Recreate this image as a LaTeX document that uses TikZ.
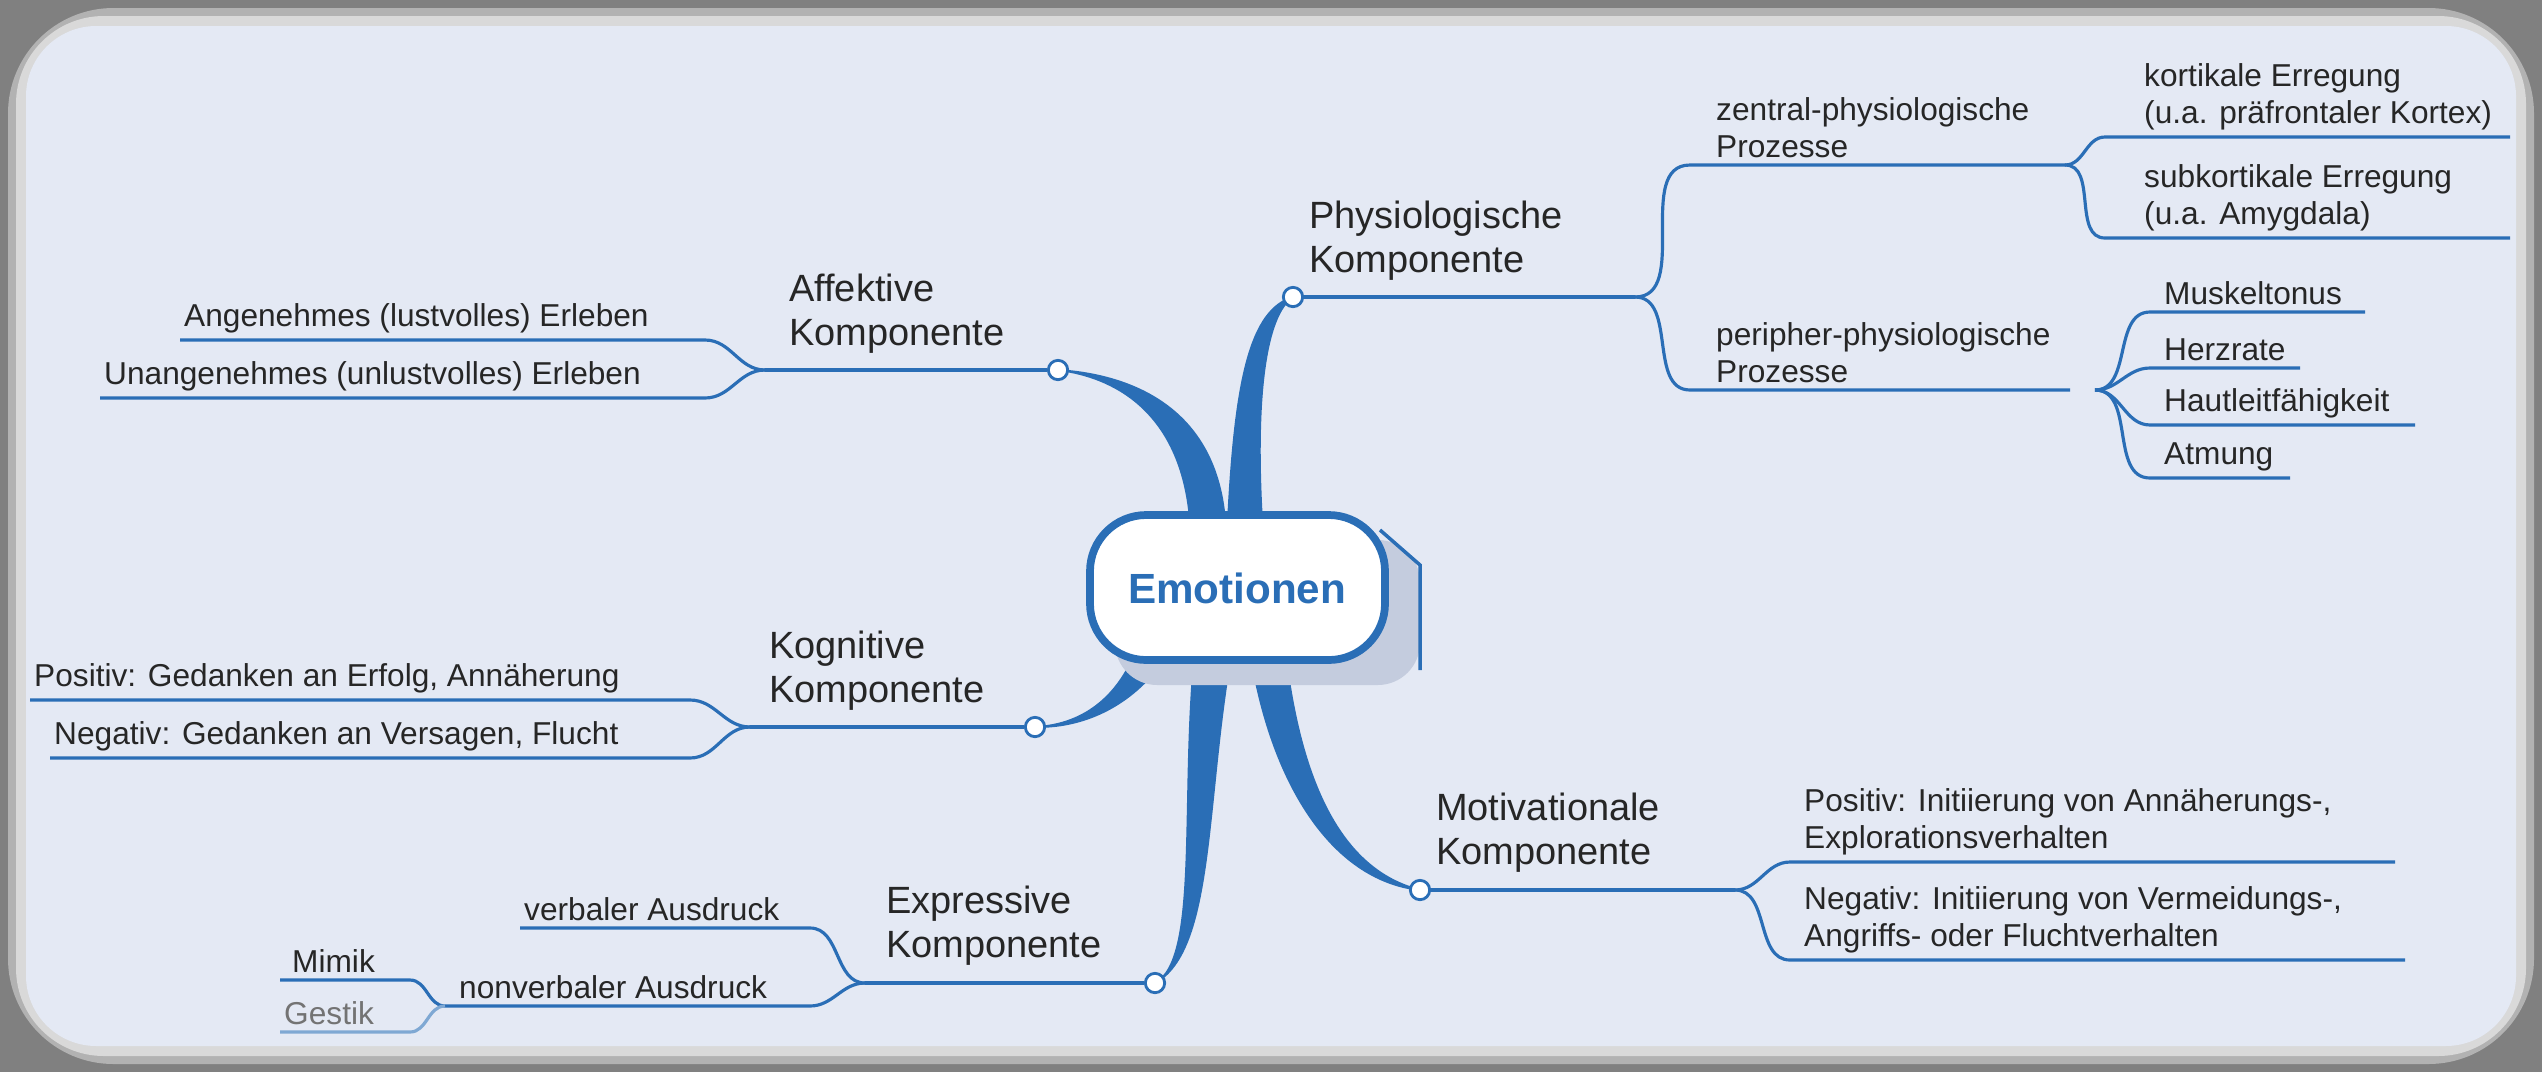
\documentclass[tikz,border=0pt]{standalone}
\usepackage{fontspec}
\setmainfont{Liberation Sans}
\definecolor{bc}{RGB}{42,110,182}
\definecolor{bgc}{RGB}{228,233,244}
\definecolor{shc}{RGB}{196,204,222}
\begin{document}
\begin{tikzpicture}[x=0.01cm,y=-0.01cm,
  br/.style={draw=bc, line width=0.9pt},
  tp/.style={fill=bc, draw=bc, line width=0.5pt},
  dot/.style={circle, draw=bc, fill=white, line width=0.8pt, inner sep=0pt, minimum size=5.5pt},
  lf/.style={font=\fontsize{9pt}{10.5pt}\selectfont, text=black!85, inner sep=1pt, align=left},
  bl/.style={font=\fontsize{10.8pt}{12.5pt}\selectfont, text=black!85, inner sep=1pt, align=left}]
\useasboundingbox (0,0) rectangle (2542,1072);
\fill[black!50] (0,0) rectangle (2542,1072);
\fill[black!30,rounded corners=30] (8,8) rectangle (2534,1064);
\fill[black!15,rounded corners=25] (16,16) rectangle (2526,1056);
\fill[bgc,rounded corners=20] (26,26) rectangle (2516,1046);
% tapered branches
\fill[tp] (1190,520) .. controls (1180,400) and (1100,375) .. (1058,370) .. controls (1120,374) and (1215,400) .. (1225,520) -- cycle;
\fill[tp] (1228,520) .. controls (1235,380) and (1250,310) .. (1293,297) .. controls (1265,315) and (1255,400) .. (1262,520) -- cycle;
\fill[tp] (1140,640) .. controls (1120,700) and (1080,725) .. (1035,727) .. controls (1090,728) and (1140,700) .. (1170,650) -- cycle;
\fill[tp] (1195,650) .. controls (1180,800) and (1200,960) .. (1155,983) .. controls (1215,950) and (1205,800) .. (1232,650) -- cycle;
\fill[tp] (1250,650) .. controls (1270,780) and (1330,880) .. (1420,890) .. controls (1340,870) and (1300,780) .. (1285,650) -- cycle;
% central node
\fill[shc,rounded corners=12] (1115,540) rectangle (1420,685);
\draw[bc,line width=1pt] (1380,530) -- (1420,565) -- (1420,670);
\draw[bc,fill=white,line width=2.2pt,rounded corners=16] (1090,515) rectangle (1385,660);
\node[font=\fontsize{12pt}{14pt}\selectfont\bfseries, text=bc] (ct) at (1237,588) {Emotionen};
% Affektive
\node[dot] (a) at (1058,370) {};
\coordinate (af) at (765,370);
\draw[br] (a) -- (af);
\node[bl,anchor=south west] (at) at (785,358) {Affektive\\Komponente};
\draw[br] (af) to[out=180,in=0] (705,340) -- (180,340);
\draw[br] (af) to[out=180,in=0] (705,398) -- (100,398);
\node[lf,anchor=south west] (a1) at (180,337) {Angenehmes (lustvolles) Erleben};
\node[lf,anchor=south west] (a2) at (100,395) {Unangenehmes (unlustvolles) Erleben};
% Kognitive
\node[dot] (k) at (1035,727) {};
\coordinate (kf) at (750,727);
\draw[br] (k) -- (kf);
\node[bl,anchor=south west] (kt) at (765,715) {Kognitive\\Komponente};
\draw[br] (kf) to[out=180,in=0] (690,700) -- (30,700);
\draw[br] (kf) to[out=180,in=0] (690,758) -- (50,758);
\node[lf,anchor=south west] (k1) at (30,697) {Positiv: Gedanken an Erfolg, Annäherung};
\node[lf,anchor=south west] (k2) at (50,755) {Negativ: Gedanken an Versagen, Flucht};
% Expressive
\node[dot] (e) at (1155,983) {};
\coordinate (ef) at (865,983);
\draw[br] (e) -- (ef);
\node[bl,anchor=south west] (et) at (882,970) {Expressive\\Komponente};
\draw[br] (ef) to[out=180,in=0] (810,928) -- (520,928);
\draw[br] (ef) to[out=180,in=0] (810,1006) -- (445,1006);
\node[lf,anchor=south west] (e1) at (520,925) {verbaler Ausdruck};
\node[lf,anchor=south west] (e2) at (455,1003) {nonverbaler Ausdruck};
\coordinate (nf) at (445,1006);
\draw[br] (nf) to[out=180,in=0] (410,980) -- (280,980);
\draw[br,draw=bc!60!white] (nf) to[out=180,in=0] (410,1032) -- (280,1032);
\node[lf,anchor=south west] (e3) at (288,977) {Mimik};
\node[lf,anchor=south west,text=black!55] (e4) at (280,1029) {Gestik};
% Physiologische
\node[dot] (p) at (1293,297) {};
\coordinate (pf) at (1635,297);
\draw[br] (p) -- (pf);
\node[bl,anchor=south west] (pt) at (1305,285) {Physiologische\\Komponente};
\draw[br] (pf) to[out=0,in=180] (1690,165) -- (2065,165);
\draw[br] (pf) to[out=0,in=180] (1690,390) -- (2070,390);
\node[lf,anchor=south west] (p1) at (1712,162) {zentral-physiologische\\Prozesse};
\node[lf,anchor=south west] (p2) at (1712,387) {peripher-physiologische\\Prozesse};
\coordinate (zf) at (2065,165);
\draw[br] (zf) to[out=0,in=180] (2105,137) -- (2510,137);
\draw[br] (zf) to[out=0,in=180] (2105,238) -- (2510,238);
\node[lf,anchor=south west] (z1) at (2140,134) {kortikale Erregung\\(u.a. präfrontaler Kortex)};
\node[lf,anchor=south west] (z2) at (2140,235) {subkortikale Erregung\\(u.a. Amygdala)};
\coordinate (qf) at (2095,390);
\draw[br] (qf) to[out=0,in=180] (2150,312) -- (2365,312);
\draw[br] (qf) to[out=0,in=180] (2150,368) -- (2300,368);
\draw[br] (qf) to[out=0,in=180] (2150,425) -- (2415,425);
\draw[br] (qf) to[out=0,in=180] (2150,478) -- (2290,478);
\node[lf,anchor=south west] (q1) at (2160,309) {Muskeltonus};
\node[lf,anchor=south west] (q2) at (2160,365) {Herzrate};
\node[lf,anchor=south west] (q3) at (2160,422) {Hautleitfähigkeit};
\node[lf,anchor=south west] (q4) at (2160,475) {Atmung};
% Motivationale
\node[dot] (m) at (1420,890) {};
\coordinate (mf) at (1735,890);
\draw[br] (m) -- (mf);
\node[bl,anchor=south west] (mt) at (1432,877) {Motivationale\\Komponente};
\draw[br] (mf) to[out=0,in=180] (1790,862) -- (2395,862);
\draw[br] (mf) to[out=0,in=180] (1790,960) -- (2405,960);
\node[lf,anchor=south west] (m1) at (1800,859) {Positiv: Initiierung von Annäherungs-,\\Explorationsverhalten};
\node[lf,anchor=south west] (m2) at (1800,957) {Negativ: Initiierung von Vermeidungs-,\\Angriffs- oder Fluchtverhalten};
\end{tikzpicture}
\end{document}
